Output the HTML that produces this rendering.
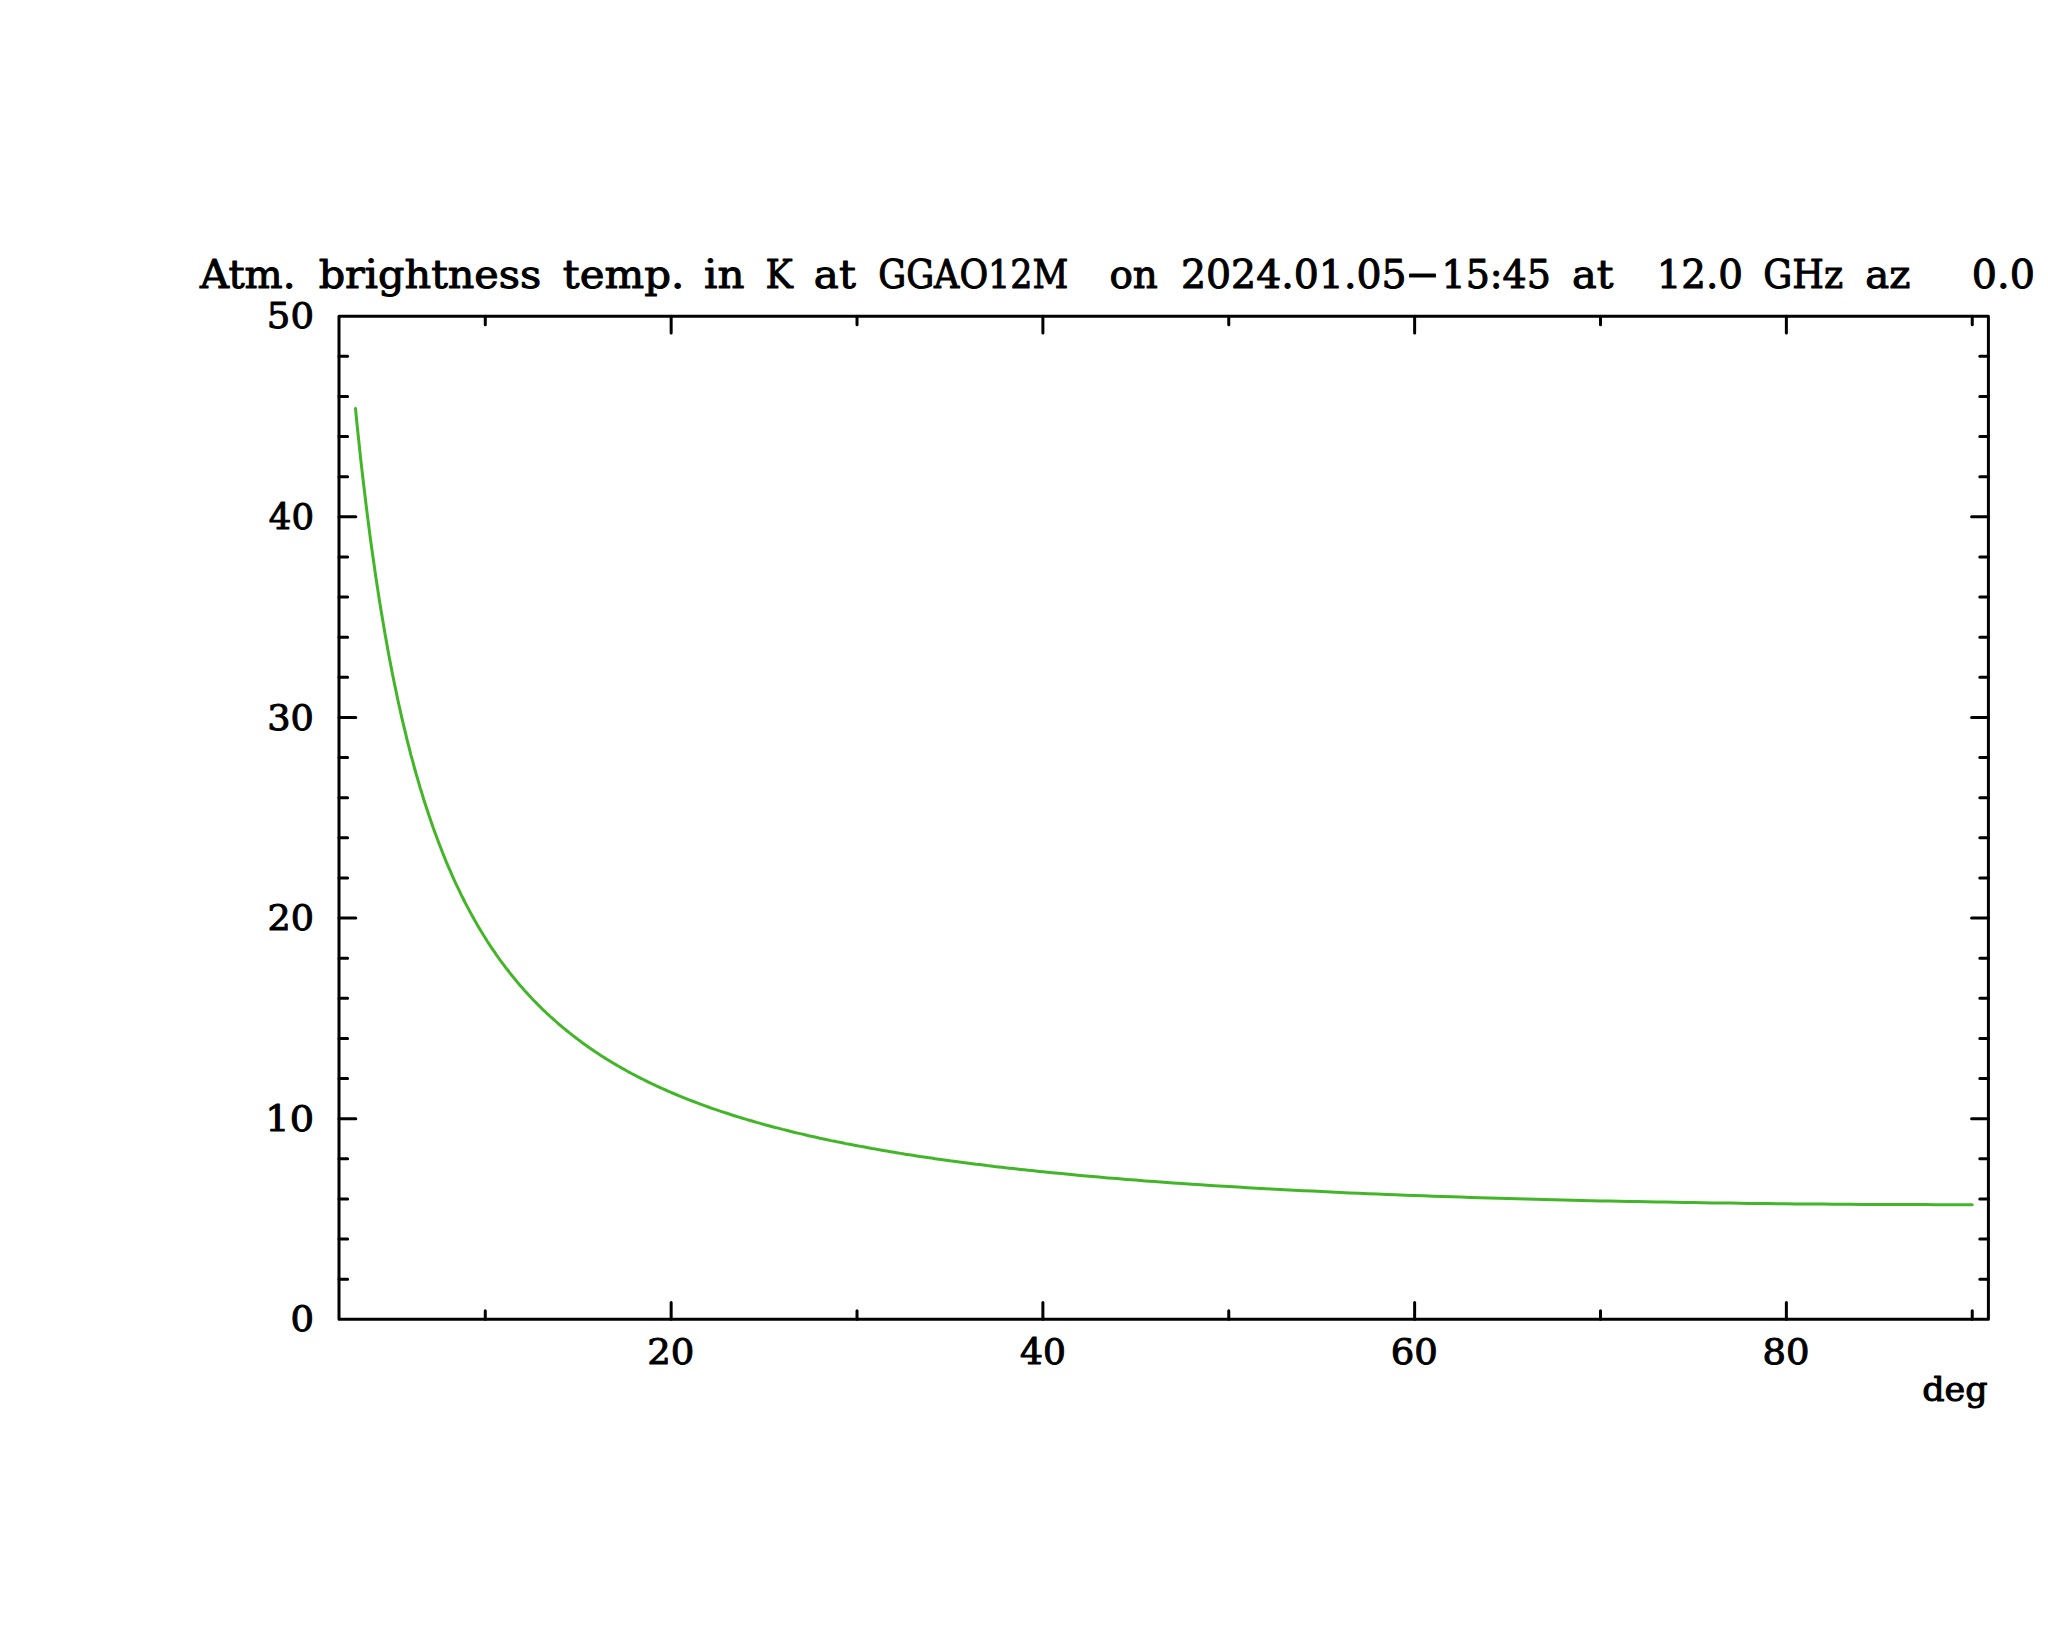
<!DOCTYPE html>
<html lang="en">
<head>
<meta charset="utf-8">
<title>Atm. brightness temp. in K at GGAO12M</title>
<style>
html,body{margin:0;padding:0;background:#fff;}
body{width:2048px;height:1635px;overflow:hidden;}
svg{display:block;}
text{font-family:"DejaVu Serif", "Liberation Serif", serif;fill:#000;stroke:#000;stroke-width:1.0px;stroke-linejoin:round;}
#title{font-size:39.6px;}
#ylabels text,#xlabels text{font-size:35.9px;}
#xlabels text.u{font-size:33.8px;}
.ax{stroke:#000;stroke-width:3.0;stroke-linecap:round;stroke-linejoin:round;fill:none;}
.cv{stroke:#42b628;stroke-width:3.0;stroke-linecap:round;stroke-linejoin:round;fill:none;}
</style>
</head>
<body>
<svg width="2048" height="1635" viewBox="0 0 2048 1635">
<rect x="0" y="0" width="2048" height="1635" fill="#ffffff"/>
<path class="ax" d="M339.0,316.2H1988.4V1319.35H339.0Z"/>
<path class="ax" d="M485.28,1319.35v-8.6M485.28,316.2v8.6M671.15,1319.35v-16.8M671.15,316.2v16.8M857.02,1319.35v-8.6M857.02,316.2v8.6M1042.89,1319.35v-16.8M1042.89,316.2v16.8M1228.76,1319.35v-8.6M1228.76,316.2v8.6M1414.63,1319.35v-16.8M1414.63,316.2v16.8M1600.50,1319.35v-8.6M1600.50,316.2v8.6M1786.37,1319.35v-16.8M1786.37,316.2v16.8M1972.24,1319.35v-8.6M1972.24,316.2v8.6M339.0,1279.22h8.6M1988.4,1279.22h-8.6M339.0,1239.10h8.6M1988.4,1239.10h-8.6M339.0,1198.97h8.6M1988.4,1198.97h-8.6M339.0,1158.85h8.6M1988.4,1158.85h-8.6M339.0,1118.72h16.8M1988.4,1118.72h-16.8M339.0,1078.59h8.6M1988.4,1078.59h-8.6M339.0,1038.47h8.6M1988.4,1038.47h-8.6M339.0,998.34h8.6M1988.4,998.34h-8.6M339.0,958.22h8.6M1988.4,958.22h-8.6M339.0,918.09h16.8M1988.4,918.09h-16.8M339.0,877.96h8.6M1988.4,877.96h-8.6M339.0,837.84h8.6M1988.4,837.84h-8.6M339.0,797.71h8.6M1988.4,797.71h-8.6M339.0,757.59h8.6M1988.4,757.59h-8.6M339.0,717.46h16.8M1988.4,717.46h-16.8M339.0,677.33h8.6M1988.4,677.33h-8.6M339.0,637.21h8.6M1988.4,637.21h-8.6M339.0,597.08h8.6M1988.4,597.08h-8.6M339.0,556.96h8.6M1988.4,556.96h-8.6M339.0,516.83h16.8M1988.4,516.83h-16.8M339.0,476.70h8.6M1988.4,476.70h-8.6M339.0,436.58h8.6M1988.4,436.58h-8.6M339.0,396.45h8.6M1988.4,396.45h-8.6M339.0,356.33h8.6M1988.4,356.33h-8.6"/>
<polyline class="cv" points="355.5,408.4 357.0,424.1 358.9,441.9 360.7,459.1 362.6,475.6 364.5,491.5 366.3,506.8 368.2,521.5 370.0,535.7 371.9,549.5 373.8,562.7 375.6,575.5 377.5,587.8 379.3,599.8 381.2,611.3 383.1,622.5 384.9,633.3 386.8,643.8 388.6,653.9 390.5,663.7 392.3,673.3 394.2,682.5 396.1,691.5 397.9,700.2 399.8,708.7 401.6,716.9 403.5,724.9 405.4,732.7 407.2,740.3 409.1,747.6 410.9,754.8 412.8,761.7 414.6,768.5 416.5,775.2 418.4,781.6 420.2,787.9 422.1,794.0 423.9,800.0 425.8,805.8 427.7,811.5 429.5,817.1 431.4,822.5 433.2,827.8 435.1,833.0 437.0,838.0 438.8,843.0 440.7,847.8 442.5,852.5 444.4,857.1 446.2,861.7 448.1,866.1 450.0,870.4 451.8,874.7 453.7,878.8 455.5,882.9 457.4,886.8 459.3,890.7 461.1,894.6 463.0,898.3 464.8,902.0 466.7,905.6 468.6,909.1 470.4,912.6 472.3,916.0 474.1,919.3 476.0,922.6 477.8,925.8 479.7,928.9 481.6,932.0 483.4,935.0 485.3,938.0 487.1,941.0 489.0,943.8 490.9,946.7 492.7,949.4 494.6,952.2 496.4,954.8 498.3,957.5 500.1,960.1 502.0,962.6 503.9,965.1 505.7,967.6 507.6,970.0 509.4,972.4 511.3,974.7 513.2,977.1 515.0,979.3 516.9,981.6 518.7,983.8 520.6,985.9 522.5,988.1 524.3,990.2 526.2,992.2 528.0,994.3 529.9,996.3 531.7,998.3 533.6,1000.2 535.5,1002.1 537.3,1004.0 539.2,1005.9 541.0,1007.7 542.9,1009.6 544.8,1011.3 546.6,1013.1 548.5,1014.8 550.3,1016.5 552.2,1018.2 554.1,1019.9 555.9,1021.5 557.8,1023.2 559.6,1024.8 561.5,1026.3 563.3,1027.9 565.2,1029.4 567.1,1031.0 568.9,1032.4 570.8,1033.9 572.6,1035.4 574.5,1036.8 576.4,1038.2 578.2,1039.6 580.1,1041.0 581.9,1042.4 583.8,1043.7 585.6,1045.1 587.5,1046.4 589.4,1047.7 591.2,1049.0 593.1,1050.3 594.9,1051.5 596.8,1052.7 598.7,1054.0 600.5,1055.2 602.4,1056.4 604.2,1057.6 606.1,1058.7 608.0,1059.9 609.8,1061.0 611.7,1062.2 613.5,1063.3 615.4,1064.4 617.2,1065.5 619.1,1066.5 621.0,1067.6 622.8,1068.7 624.7,1069.7 626.5,1070.7 628.4,1071.8 630.3,1072.8 632.1,1073.8 634.0,1074.7 635.8,1075.7 637.7,1076.7 639.6,1077.6 641.4,1078.6 643.3,1079.5 645.1,1080.4 647.0,1081.4 648.8,1082.3 650.7,1083.2 652.6,1084.1 654.4,1084.9 656.3,1085.8 658.1,1086.7 660.0,1087.5 661.9,1088.4 663.7,1089.2 665.6,1090.0 667.4,1090.8 669.3,1091.7 671.1,1092.5 674.9,1094.0 678.6,1095.6 682.3,1097.1 686.0,1098.6 689.7,1100.1 693.5,1101.5 697.2,1102.9 700.9,1104.3 704.6,1105.7 708.3,1107.0 712.0,1108.3 715.8,1109.6 719.5,1110.9 723.2,1112.1 726.9,1113.3 730.6,1114.5 734.3,1115.7 738.1,1116.9 741.8,1118.0 745.5,1119.1 749.2,1120.2 752.9,1121.3 756.6,1122.4 760.4,1123.4 764.1,1124.5 767.8,1125.5 771.5,1126.5 775.2,1127.5 779.0,1128.4 782.7,1129.4 786.4,1130.3 790.1,1131.3 793.8,1132.2 797.5,1133.1 801.3,1133.9 805.0,1134.8 808.7,1135.7 812.4,1136.5 816.1,1137.3 819.8,1138.2 823.6,1139.0 827.3,1139.8 831.0,1140.6 834.7,1141.3 838.4,1142.1 842.2,1142.8 845.9,1143.6 849.6,1144.3 853.3,1145.0 857.0,1145.7 860.7,1146.4 864.5,1147.1 868.2,1147.8 871.9,1148.5 875.6,1149.1 879.3,1149.8 883.0,1150.4 886.8,1151.1 890.5,1151.7 894.2,1152.3 897.9,1152.9 901.6,1153.6 905.3,1154.2 909.1,1154.7 912.8,1155.3 916.5,1155.9 920.2,1156.5 923.9,1157.0 927.7,1157.6 931.4,1158.1 935.1,1158.7 938.8,1159.2 942.5,1159.7 946.2,1160.2 950.0,1160.8 953.7,1161.3 957.4,1161.8 961.1,1162.3 964.8,1162.7 968.5,1163.2 972.3,1163.7 976.0,1164.2 979.7,1164.6 983.4,1165.1 987.1,1165.6 990.8,1166.0 994.6,1166.5 998.3,1166.9 1002.0,1167.3 1005.7,1167.8 1009.4,1168.2 1013.2,1168.6 1016.9,1169.0 1020.6,1169.4 1024.3,1169.8 1028.0,1170.2 1031.7,1170.6 1035.5,1171.0 1039.2,1171.4 1042.9,1171.8 1052.2,1172.7 1061.5,1173.6 1070.8,1174.5 1080.1,1175.4 1089.4,1176.2 1098.7,1177.1 1107.9,1177.9 1117.2,1178.6 1126.5,1179.4 1135.8,1180.1 1145.1,1180.9 1154.4,1181.6 1163.7,1182.2 1173.0,1182.9 1182.3,1183.6 1191.6,1184.2 1200.9,1184.8 1210.2,1185.4 1219.5,1186.0 1228.8,1186.6 1238.1,1187.1 1247.3,1187.7 1256.6,1188.2 1265.9,1188.7 1275.2,1189.2 1284.5,1189.7 1293.8,1190.2 1303.1,1190.7 1312.4,1191.1 1321.7,1191.6 1331.0,1192.0 1340.3,1192.4 1349.6,1192.9 1358.9,1193.3 1368.2,1193.7 1377.5,1194.1 1386.7,1194.4 1396.0,1194.8 1405.3,1195.2 1414.6,1195.5 1423.9,1195.8 1433.2,1196.2 1442.5,1196.5 1451.8,1196.8 1461.1,1197.1 1470.4,1197.4 1479.7,1197.7 1489.0,1198.0 1498.3,1198.3 1507.6,1198.6 1516.9,1198.8 1526.2,1199.1 1535.4,1199.3 1544.7,1199.6 1554.0,1199.8 1563.3,1200.0 1572.6,1200.2 1581.9,1200.5 1591.2,1200.7 1600.5,1200.9 1609.8,1201.1 1619.1,1201.3 1628.4,1201.5 1637.7,1201.6 1647.0,1201.8 1656.3,1202.0 1665.6,1202.1 1674.8,1202.3 1684.1,1202.5 1693.4,1202.6 1702.7,1202.7 1712.0,1202.9 1721.3,1203.0 1730.6,1203.1 1739.9,1203.3 1749.2,1203.4 1758.5,1203.5 1767.8,1203.6 1777.1,1203.7 1786.4,1203.8 1795.7,1203.9 1805.0,1204.0 1814.3,1204.0 1823.5,1204.1 1832.8,1204.2 1842.1,1204.2 1851.4,1204.3 1860.7,1204.4 1870.0,1204.4 1879.3,1204.5 1888.6,1204.5 1897.9,1204.6 1907.2,1204.6 1916.5,1204.6 1925.8,1204.6 1935.1,1204.7 1944.4,1204.7 1953.7,1204.7 1962.9,1204.7 1972.2,1204.7"/>
<text id="title" y="287.6"><tspan x="200.08" y="287.6" textLength="95.33" lengthAdjust="spacingAndGlyphs">Atm.</tspan> <tspan x="318.67" y="287.6" textLength="222.59" lengthAdjust="spacingAndGlyphs">brightness</tspan> <tspan x="562.89" y="287.6" textLength="121.40" lengthAdjust="spacingAndGlyphs">temp.</tspan> <tspan x="704.13" y="287.6" textLength="40.44" lengthAdjust="spacingAndGlyphs">in</tspan> <tspan x="765.45" y="287.6" textLength="27.26" lengthAdjust="spacingAndGlyphs">K</tspan> <tspan x="813.86" y="287.6" textLength="41.94" lengthAdjust="spacingAndGlyphs">at</tspan> <tspan x="878.19" y="287.6" textLength="190.27" lengthAdjust="spacingAndGlyphs">GGAO12M</tspan>  <tspan x="1109.42" y="287.6" textLength="48.44" lengthAdjust="spacingAndGlyphs">on</tspan> <tspan x="1180.97" y="287.6" textLength="225.66" lengthAdjust="spacingAndGlyphs">2024.01.05</tspan><tspan x="1406.00" y="285.6" textLength="33.02" lengthAdjust="spacingAndGlyphs">-</tspan><tspan x="1441.53" y="287.6" textLength="109.37" lengthAdjust="spacingAndGlyphs">15:45</tspan> <tspan x="1572.10" y="287.6" textLength="41.42" lengthAdjust="spacingAndGlyphs">at</tspan>  <tspan x="1656.66" y="287.6" textLength="86.38" lengthAdjust="spacingAndGlyphs">12.0</tspan> <tspan x="1763.28" y="287.6" textLength="79.81" lengthAdjust="spacingAndGlyphs">GHz</tspan> <tspan x="1865.19" y="287.6" textLength="45.20" lengthAdjust="spacingAndGlyphs">az</tspan>   <tspan x="1971.83" y="287.6" textLength="63.06" lengthAdjust="spacingAndGlyphs">0.0</tspan></text>
<g id="ylabels">
<text x="290.49" y="1331.3" textLength="23.54" lengthAdjust="spacingAndGlyphs">0</text>
<text x="265.29" y="1130.7" textLength="48.71" lengthAdjust="spacingAndGlyphs">10</text>
<text x="267.51" y="930.1" textLength="46.54" lengthAdjust="spacingAndGlyphs">20</text>
<text x="267.18" y="729.5" textLength="46.66" lengthAdjust="spacingAndGlyphs">30</text>
<text x="268.84" y="528.8" textLength="45.16" lengthAdjust="spacingAndGlyphs">40</text>
<text x="266.89" y="328.2" textLength="47.16" lengthAdjust="spacingAndGlyphs">50</text>
</g>
<g id="xlabels">
<text x="647.18" y="1364.0" textLength="47.13" lengthAdjust="spacingAndGlyphs">20</text>
<text x="1020.08" y="1364.0" textLength="45.86" lengthAdjust="spacingAndGlyphs">40</text>
<text x="1390.73" y="1364.0" textLength="47.12" lengthAdjust="spacingAndGlyphs">60</text>
<text x="1762.50" y="1364.0" textLength="47.03" lengthAdjust="spacingAndGlyphs">80</text>
<text class="u" x="1922.16" y="1401.2" textLength="65.49" lengthAdjust="spacingAndGlyphs">deg</text>
</g>
</svg>
</body>
</html>
